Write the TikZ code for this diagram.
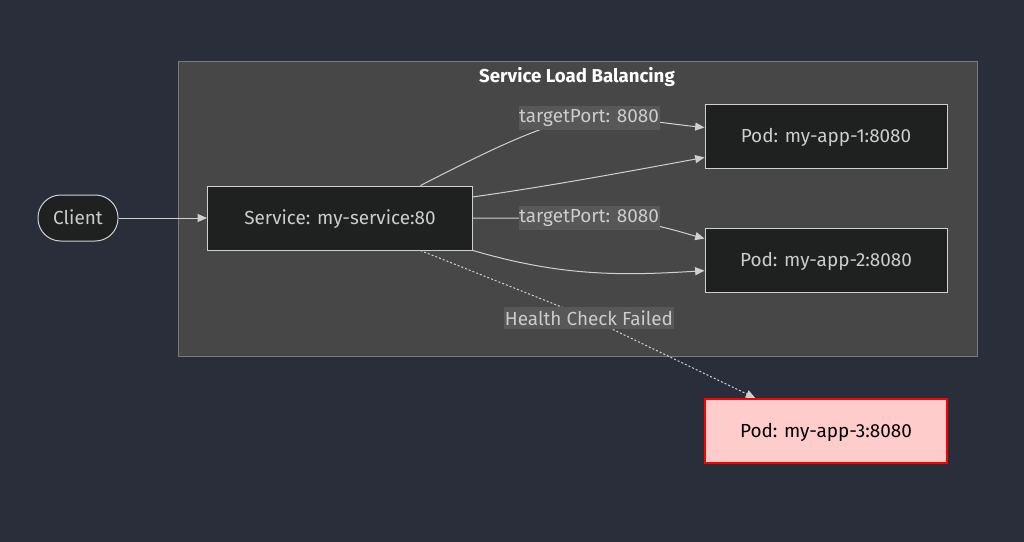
\documentclass[tikz,border=0pt]{standalone}
\usepackage{fontspec}
\setmainfont{Fira Sans}
\usepackage{tikz}
\usetikzlibrary{arrows.meta,positioning}

\definecolor{bgcol}{HTML}{2A2E3A}
\definecolor{clustercol}{HTML}{474747}
\definecolor{clusterline}{HTML}{7A7A7A}
\definecolor{nodecol}{HTML}{1F2020}
\definecolor{linecol}{HTML}{D0D0D0}
\definecolor{textcol}{HTML}{CCCCCC}
\definecolor{lblcol}{HTML}{585858}
\definecolor{failcol}{HTML}{FFCCCC}

\begin{document}
\begin{tikzpicture}[x=0.75pt, y=-0.75pt,
  pod/.style={draw=linecol, fill=nodecol, text=textcol, font=\fontsize{14.2}{16}\selectfont,
              minimum width=181.5pt, minimum height=48pt, inner sep=0pt, line width=0.75pt,
              text height=11pt, text depth=0.8pt},
  svcbox/.style={pod, minimum width=198.75pt},
  client/.style={pod, rounded corners=17pt, minimum width=60pt, minimum height=34.5pt},
  failpod/.style={pod, draw=red, fill=failcol, text=black, line width=1.5pt},
  lbl/.style={fill=lblcol, text=textcol, font=\fontsize{14.2}{16}\selectfont,
              inner xsep=0.5pt, inner ysep=2.5pt},
  arr/.style={-{Triangle[length=7pt, width=6pt]}, draw=linecol, line width=0.75pt},
  darr/.style={arr, dash pattern=on 1.5pt off 1.5pt}
]
\fill[bgcol] (0,0) rectangle (1024,542);
\useasboundingbox (0,0) rectangle (1024,542);

% cluster
\draw[clusterline, fill=clustercol, line width=0.75pt] (178,62) rectangle (977,356);
\node[text=white, font=\bfseries\fontsize{14}{16}\selectfont] (title) at (577,77) {Service Load Balancing};

% nodes
\node[client] (cl) at (78,218) {Client};
\node[svcbox] (svc) at (340,218) {Service: my-service:80};
\node[pod] (p1) at (826,136) {Pod: my-app-1:8080};
\node[pod] (p2) at (826,260) {Pod: my-app-2:8080};
\node[failpod] (p3) at (826,431) {Pod: my-app-3:8080};

% edges
\draw[arr] (cl) -- (svc);
\draw[arr] (svc.22) .. controls (490,150) and (550,120) .. (589,118)
  node[lbl] {targetPort: 8080} .. controls (630,117) and (670,124) .. (p1.176);
\draw[arr] (svc.9) .. controls (550,186) and (620,173) .. (p1.-170);
\draw[arr] (svc.east) -- (589,218)
  node[lbl] {targetPort: 8080} .. controls (640,218) and (680,232) .. (p2.170);
\draw[arr] (svc.south east) .. controls (560,276) and (620,276) .. (p2.185);
\draw[darr] (svc.-22) -- (589,318) node[lbl] {Health Check Failed} -- (p3.155);
\end{tikzpicture}
\end{document}
